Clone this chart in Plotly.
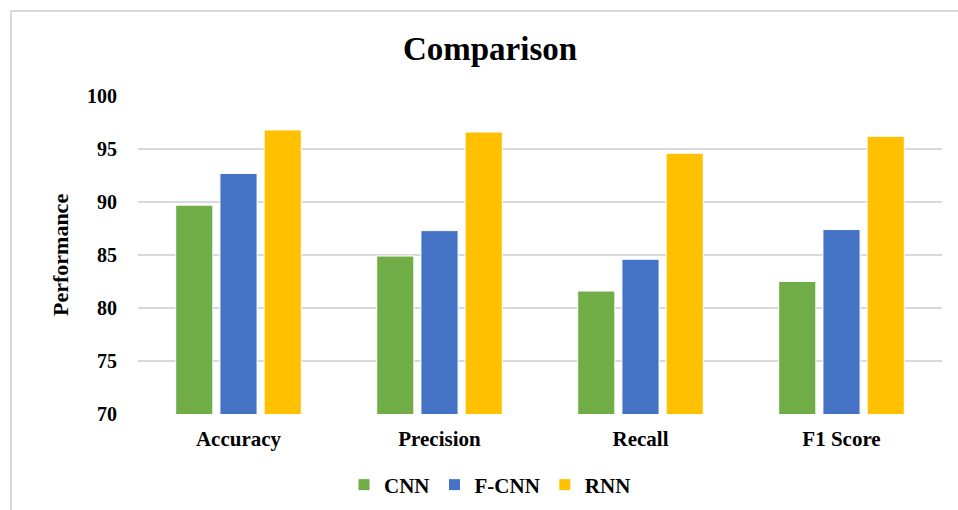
import plotly.graph_objects as go

categories = ["Accuracy", "Precision", "Recall", "F1 Score"]
cnn = [89.7, 84.9, 81.6, 82.5]
fcnn = [92.7, 87.3, 84.6, 87.4]
rnn = [96.8, 96.6, 94.6, 96.2]
series_names = ["CNN", "F-CNN", "RNN"]
colors = ["#70ad47", "#4472c4", "#ffc000"]
yticks = [70, 75, 80, 85, 90, 95, 100]

W, H = 958, 510
ML, MR, MT, MB = 138, 16, 96, 96
PW, PH = W - ML - MR, H - MT - MB

FONT = "Liberation Serif"

fig = go.Figure()
for name, vals, col in zip(series_names, [cnn, fcnn, rnn], colors):
    fig.add_trace(go.Bar(
        x=categories, y=vals, name=name,
        marker=dict(color=col, line=dict(color="white", width=1)),
    ))

def px_to_paper_x(px):
    return (px - ML) / PW

def px_to_paper_y(py):
    return (H - MB - py) / PH

fig.update_layout(
    width=W, height=H,
    margin=dict(l=ML, r=MR, t=MT, b=MB, autoexpand=False),
    paper_bgcolor="white", plot_bgcolor="white",
    barmode="group", bargap=0.34, bargroupgap=0.16,
    font=dict(family=FONT, color="#000000"),
    title=dict(text="<b>Comparison</b>", x=px_to_paper_x(490), xref="paper",
               xanchor="center", y=1 - 48 / H, yanchor="middle",
               font=dict(family=FONT, size=33, color="#000000")),
    xaxis=dict(showgrid=False, showline=False, ticks="",
               tickfont=dict(family=FONT, size=21, color="#000000", weight="bold"),
               ticklabelstandoff=10),
    yaxis=dict(range=[70, 100], tickvals=yticks, showgrid=True, gridcolor="#d9d9d9",
               gridwidth=2, zeroline=False, showline=False, ticks="",
               tickfont=dict(family=FONT, size=20, color="#000000", weight="bold"),
               ticklabelstandoff=20),
    legend=dict(orientation="h", x=px_to_paper_x(490), xanchor="center",
                y=px_to_paper_y(485), yanchor="middle",
                font=dict(family=FONT, size=21, color="#000000", weight="bold"),
                itemwidth=30, traceorder="normal"),
    showlegend=True,
    annotations=[dict(text="<b>Performance</b>", textangle=-90, x=px_to_paper_x(60),
                      y=px_to_paper_y(255), xref="paper", yref="paper",
                      showarrow=False, xanchor="center", yanchor="middle",
                      font=dict(family=FONT, size=22, color="#000000"))],
    shapes=[
        dict(type="line", xref="paper", yref="paper",
             x0=px_to_paper_x(10), x1=px_to_paper_x(958),
             y0=px_to_paper_y(11), y1=px_to_paper_y(11),
             line=dict(color="#d9d9d9", width=2)),
        dict(type="line", xref="paper", yref="paper",
             x0=px_to_paper_x(11), x1=px_to_paper_x(11),
             y0=px_to_paper_y(10), y1=px_to_paper_y(510),
             line=dict(color="#d9d9d9", width=2)),
    ],
)

fig.write_html("out.html")
